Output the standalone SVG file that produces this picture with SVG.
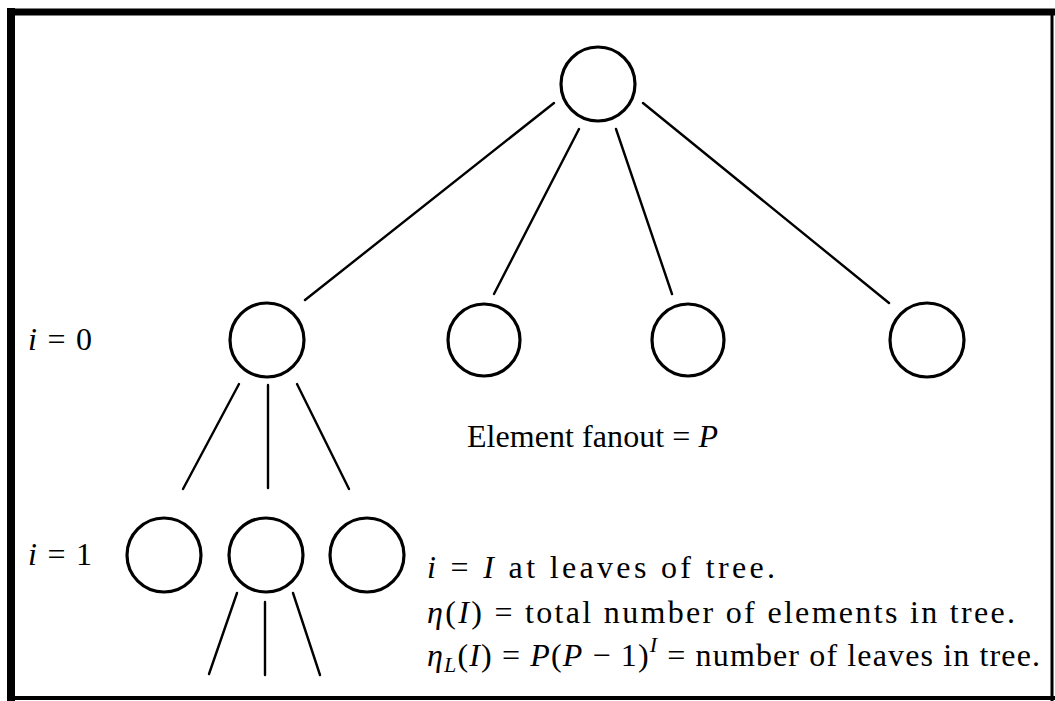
<svg xmlns="http://www.w3.org/2000/svg" width="1055" height="701" viewBox="0 0 1055 701">
<style>
.node circle{fill:none;stroke:#000;stroke-width:3.2}
.edges line{stroke:#000;stroke-width:2.4;stroke-linecap:round}
.frame line{stroke:#000}
text{font-family:"Liberation Serif","DejaVu Serif",serif;font-size:32px;fill:#000}
.it{font-style:italic}
.sub{font-style:italic;font-size:22px}
</style>
<rect x="0" y="0" width="1055" height="701" fill="#fff"/>
<g class="frame">
<line x1="11" y1="8" x2="11" y2="701" stroke-width="8"/>
<line x1="7" y1="12" x2="1055" y2="12" stroke-width="7"/>
<line x1="1052" y1="12" x2="1052" y2="701" stroke-width="3"/>
<line x1="7" y1="698" x2="1055" y2="698" stroke-width="4"/>
</g>
<g class="edges">
<line x1="554" y1="103" x2="305" y2="300"/>
<line x1="579" y1="129" x2="494" y2="294"/>
<line x1="616" y1="129" x2="672" y2="294"/>
<line x1="643" y1="103" x2="889" y2="303"/>
<line x1="239" y1="384" x2="183" y2="489"/>
<line x1="268" y1="385" x2="268" y2="488"/>
<line x1="297" y1="384" x2="349" y2="489"/>
<line x1="237" y1="593" x2="209" y2="674"/>
<line x1="265" y1="602" x2="265" y2="675"/>
<line x1="293" y1="593" x2="320" y2="675"/>
</g>
<g id="root" class="node"><circle cx="598" cy="84" r="37"/></g>
<g id="n0a" class="node"><circle cx="267" cy="340" r="37"/></g>
<g id="n0b" class="node"><circle cx="484" cy="340" r="36"/></g>
<g id="n0c" class="node"><circle cx="688" cy="340" r="36"/></g>
<g id="n0d" class="node"><circle cx="927" cy="340" r="37"/></g>
<g id="n1a" class="node"><circle cx="164" cy="555" r="37"/></g>
<g id="n1b" class="node"><circle cx="266" cy="555" r="37"/></g>
<g id="n1c" class="node"><circle cx="367" cy="555" r="37"/></g>
<g id="labels">
<text x="28" y="350" textLength="64" lengthAdjust="spacing"><tspan class="it">i</tspan> = 0</text>
<text x="28" y="565" textLength="64" lengthAdjust="spacing"><tspan class="it">i</tspan> = 1</text>
<text x="467" y="447" textLength="251" lengthAdjust="spacing">Element fanout = <tspan class="it">P</tspan></text>
<text x="427" y="578" textLength="348" lengthAdjust="spacing"><tspan class="it">i</tspan> = <tspan class="it">I</tspan> at leaves of tree.</text>
<text x="427" y="623" textLength="588" lengthAdjust="spacing"><tspan class="it">η</tspan>(<tspan class="it">I</tspan>) = total number of elements in tree.</text>
<text x="427" y="666" textLength="613" lengthAdjust="spacing"><tspan class="it">η</tspan><tspan class="sub" dy="6">L</tspan><tspan dy="-6">(</tspan><tspan class="it">I</tspan>) = <tspan class="it">P</tspan>(<tspan class="it">P</tspan> − 1)<tspan class="sub" dy="-14">I</tspan><tspan dy="14"> = number of leaves in tree.</tspan></text>
</g>
</svg>
